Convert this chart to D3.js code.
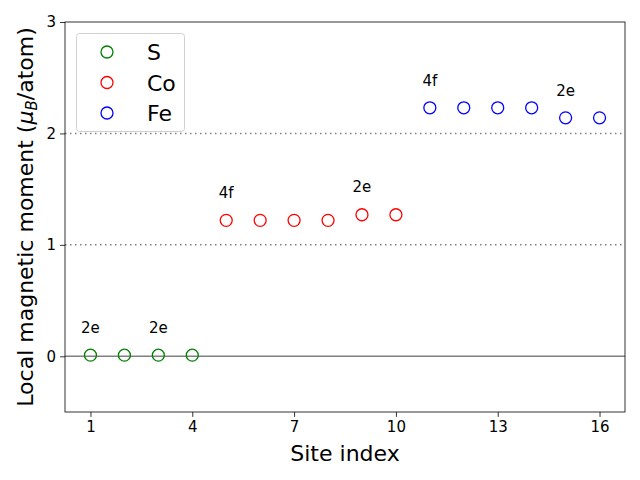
<!DOCTYPE html>
<html><head><meta charset="utf-8">
<script src="https://cdn.jsdelivr.net/npm/d3@7"></script>
<style>body{margin:0;background:#fff}svg{font-family:"DejaVu Sans",sans-serif}</style>
</head><body>
<svg id="c" width="640" height="480"></svg>
<script>
const sSites=[1,2,3,4], sVals=[0.01,0.01,0.01,0.01];
const coSites=[5,6,7,8,9,10], coVals=[1.22,1.22,1.22,1.22,1.27,1.27];
const feSites=[11,12,13,14,15,16], feVals=[2.23,2.23,2.23,2.23,2.14,2.14];
const xTicks=[1,4,7,10,13,16], yTicks=[0,1,2,3];
const annSites=[1,3,5,9,11,15], annVals=[0.01,0.01,1.22,1.27,2.23,2.14], annLabels=["2e","2e","4f","2e","4f","2e"];
const series=[{name:"S",color:"green",x:sSites,y:sVals},{name:"Co",color:"red",x:coSites,y:coVals},{name:"Fe",color:"blue",x:feSites,y:feVals}];

const svg=d3.select("#c");
const L=65,R=625,T=22,B=412;
const x=d3.scaleLinear().domain([0.25,16.75]).range([L,R]);
const y=d3.scaleLinear().domain([-0.5,3]).range([B,T]);

svg.append("line").attr("x1",L).attr("x2",R).attr("y1",y(0)).attr("y2",y(0)).attr("stroke","#808080").attr("stroke-width",1.5);
[1,2].forEach(v=>svg.append("line").attr("x1",L).attr("x2",R).attr("y1",y(v)).attr("y2",y(v)).attr("stroke","#808080").attr("stroke-width",1.5).attr("stroke-dasharray","1.5,3.5"));

series.forEach(s=>{
  svg.append("g").selectAll("circle").data(s.x.map((d,i)=>[d,s.y[i]])).join("circle")
    .attr("cx",d=>x(d[0])).attr("cy",d=>y(d[1])).attr("r",6)
    .attr("fill","none").attr("stroke",s.color).attr("stroke-width",1.3);
});

svg.append("g").selectAll("text").data(annSites.map((d,i)=>[d,annVals[i],annLabels[i]])).join("text")
  .attr("x",d=>x(d[0])).attr("y",d=>y(d[1]+0.2)).attr("text-anchor","middle").attr("font-size",15).text(d=>d[2]);

const xa=svg.append("g").attr("transform",`translate(0,${B})`).call(d3.axisBottom(x).tickValues(xTicks).tickFormat(d3.format("d")).tickSize(4.9).tickPadding(4));
const ya=svg.append("g").attr("transform",`translate(${L},0)`).call(d3.axisLeft(y).tickValues(yTicks).tickFormat(d3.format("d")).tickSize(4.9).tickPadding(4));
[xa,ya].forEach(a=>{a.select(".domain").remove();a.selectAll("text").attr("font-size",15).attr("font-family","DejaVu Sans").attr("fill","#000");a.selectAll("line").attr("stroke","#000").attr("stroke-width",0.8);});
svg.append("rect").attr("x",L).attr("y",T).attr("width",R-L).attr("height",B-T).attr("fill","none").attr("stroke","#000").attr("stroke-width",0.8);

svg.append("text").attr("x",(L+R)/2).attr("y",461).attr("text-anchor","middle").attr("font-size",22).text("Site index");
const yl=svg.append("text").attr("transform",`translate(33,${(T+B)/2}) rotate(-90)`).attr("text-anchor","middle").attr("font-size",22);
yl.append("tspan").text("Local magnetic moment (");
yl.append("tspan").attr("font-style","italic").text("μ");
yl.append("tspan").attr("font-style","italic").attr("font-size",15).attr("dy",4).text("B");
yl.append("tspan").attr("dy",-4).text("/atom)");

const lg=svg.append("g");
lg.append("rect").attr("x",76.5).attr("y",33.5).attr("width",108).attr("height",98).attr("rx",3).attr("fill","#fff").attr("fill-opacity",0.8).attr("stroke","#d0d0d0");
series.forEach((s,i)=>{
  const cy=52+i*30.5;
  lg.append("circle").attr("cx",107).attr("cy",cy).attr("r",6).attr("fill","none").attr("stroke",s.color).attr("stroke-width",1.3);
  lg.append("text").attr("x",147).attr("y",cy+8).attr("font-size",22).text(s.name);
});
</script>
</body></html>
